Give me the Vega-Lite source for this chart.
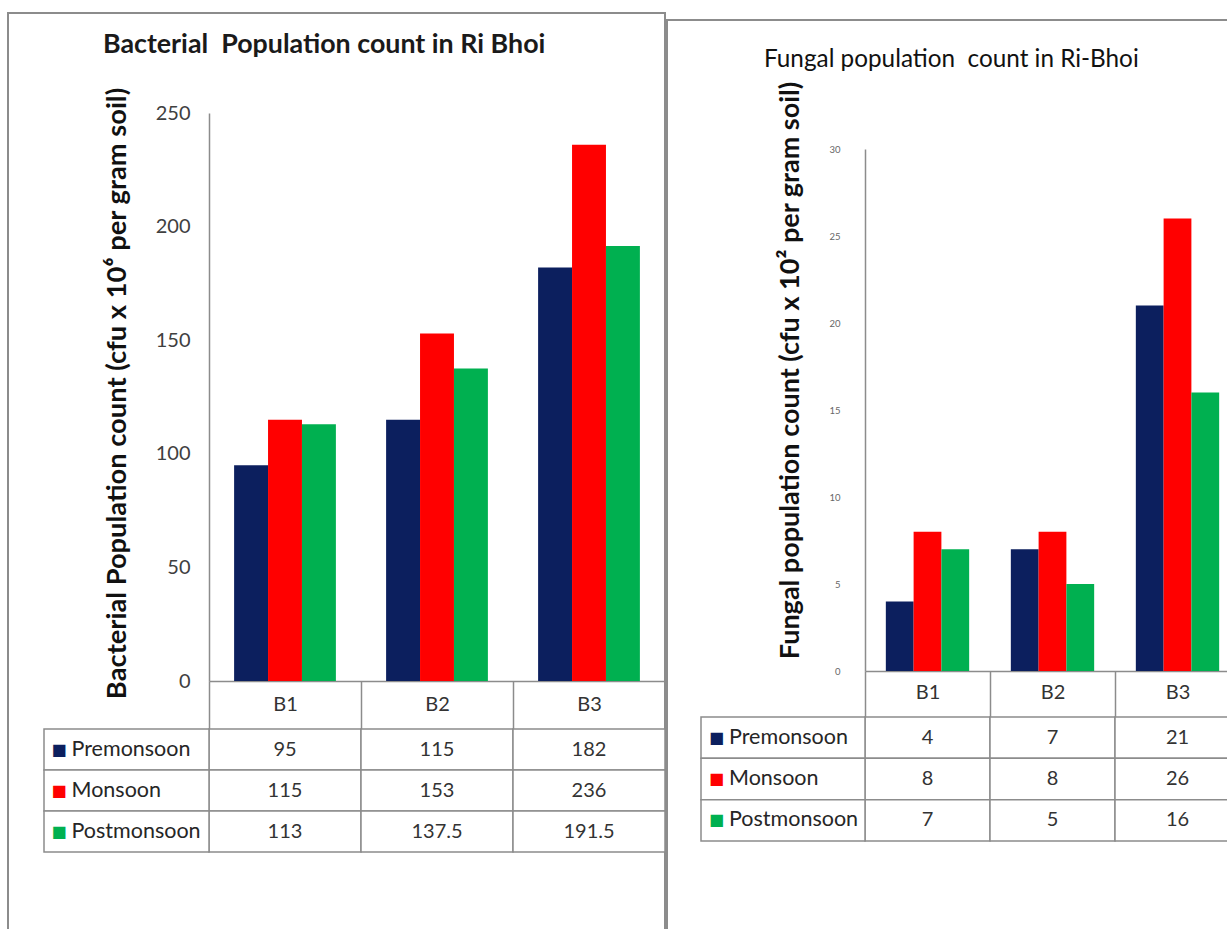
{
  "$schema": "https://vega.github.io/schema/vega-lite/v6.json",
  "width": 1227,
  "height": 929,
  "autosize": {"type": "none"},
  "padding": 0,
  "background": "white",
  "config": {"view": {"stroke": null}, "font": "Lato", "axis": {"grid": false, "zindex": 1}},
  "datasets": {
    "bact": [
      {"site": "B1", "season": "Premonsoon", "count": 95},
      {"site": "B1", "season": "Monsoon", "count": 115},
      {"site": "B1", "season": "Postmonsoon", "count": 113},
      {"site": "B2", "season": "Premonsoon", "count": 115},
      {"site": "B2", "season": "Monsoon", "count": 153},
      {"site": "B2", "season": "Postmonsoon", "count": 137.5},
      {"site": "B3", "season": "Premonsoon", "count": 182},
      {"site": "B3", "season": "Monsoon", "count": 236},
      {"site": "B3", "season": "Postmonsoon", "count": 191.5}
    ],
    "fung": [
      {"site": "B1", "season": "Premonsoon", "count": 4},
      {"site": "B1", "season": "Monsoon", "count": 8},
      {"site": "B1", "season": "Postmonsoon", "count": 7},
      {"site": "B2", "season": "Premonsoon", "count": 7},
      {"site": "B2", "season": "Monsoon", "count": 8},
      {"site": "B2", "season": "Postmonsoon", "count": 5},
      {"site": "B3", "season": "Premonsoon", "count": 21},
      {"site": "B3", "season": "Monsoon", "count": 26},
      {"site": "B3", "season": "Postmonsoon", "count": 16}
    ],
    "seasons": [
      {"season": "Premonsoon"},
      {"season": "Monsoon"},
      {"season": "Postmonsoon"}
    ],
    "panelL": [{"panel": "Bacterial", "title": "Bacterial\u00a0 Population count in Ri Bhoi"}],
    "panelR": [{"panel": "Fungal", "title": "Fungal population\u00a0 count in Ri-Bhoi"}]
  },
  "layer": [
    {
      "data": {"name": "panelL"},
      "layer": [
        {
          "mark": {"type": "rect", "fill": "transparent", "stroke": "#8c8c8c", "strokeWidth": 2},
          "encoding": {
            "x": {"field": "panel", "type": "nominal", "scale": {"range": [8, 665], "paddingInner": 0, "paddingOuter": 0}, "axis": null},
            "y": {"field": "panel", "type": "nominal", "scale": {"range": [13, 990], "paddingInner": 0, "paddingOuter": 0}, "axis": null}
          }
        },
        {
          "mark": {"type": "text", "align": "left", "baseline": "middle", "dx": 95, "dy": 32, "fontSize": 26.8, "fontWeight": "bold", "fill": "#1a1a1a"},
          "encoding": {
            "x": {"field": "panel", "type": "nominal", "bandPosition": 0, "scale": {"range": [8, 665], "paddingInner": 0, "paddingOuter": 0}, "axis": null},
            "y": {"field": "panel", "type": "nominal", "bandPosition": 0, "scale": {"range": [13, 990], "paddingInner": 0, "paddingOuter": 0}, "axis": null},
            "text": {"field": "title"}
          }
        }
      ]
    },
    {
      "data": {"name": "panelR"},
      "layer": [
        {
          "mark": {"type": "rect", "fill": "transparent", "stroke": "#8c8c8c", "strokeWidth": 2},
          "encoding": {
            "x": {"field": "panel", "type": "nominal", "scale": {"range": [667, 1400], "paddingInner": 0, "paddingOuter": 0}, "axis": null},
            "y": {"field": "panel", "type": "nominal", "scale": {"range": [20, 990], "paddingInner": 0, "paddingOuter": 0}, "axis": null}
          }
        },
        {
          "mark": {"type": "text", "align": "left", "baseline": "middle", "dx": 97, "dy": 40, "fontSize": 24.3, "fontWeight": "normal", "fill": "#111111"},
          "encoding": {
            "x": {"field": "panel", "type": "nominal", "bandPosition": 0, "scale": {"range": [667, 1400], "paddingInner": 0, "paddingOuter": 0}, "axis": null},
            "y": {"field": "panel", "type": "nominal", "bandPosition": 0, "scale": {"range": [20, 990], "paddingInner": 0, "paddingOuter": 0}, "axis": null},
            "text": {"field": "title"}
          }
        }
      ]
    },
    {
      "data": {"name": "bact"},
      "mark": {"type": "bar"},
      "encoding": {
        "x": {
          "field": "site", "type": "nominal",
          "scale": {"range": [209, 665], "paddingInner": 0, "paddingOuter": 0},
          "axis": {"orient": "bottom", "offset": -248, "title": null, "tickBand": "extent", "ticks": true, "tickSize": 48, "tickColor": "#8c8c8c", "tickWidth": 1.5, "domainColor": "#8c8c8c", "domainWidth": 1.5, "labelPadding": -35, "labelFontSize": 20, "labelColor": "#333333", "labelAngle": 0}
        },
        "xOffset": {"field": "season", "type": "nominal", "sort": ["Premonsoon", "Monsoon", "Postmonsoon"], "scale": {"domain": ["Premonsoon", "Monsoon", "Postmonsoon"], "paddingInner": 0, "paddingOuter": 0.74}},
        "y": {
          "field": "count", "type": "quantitative",
          "scale": {"domain": [0, 250], "range": [681, 113], "nice": false, "zero": true},
          "axis": {"orient": "left", "offset": -209, "values": [0, 50, 100, 150, 200, 250], "ticks": false, "tickSize": 0, "domainColor": "#8c8c8c", "domainWidth": 1.5, "labelPadding": 19, "labelFontSize": 20, "labelColor": "#404040", "title": "Bacterial Population count (cfu x 10\u2076 per gram soil)", "titleFontSize": 27.3, "titleFontWeight": "bold", "titleColor": "#111111", "titlePadding": 24, "titleY": 393}
        },
        "color": {"field": "season", "type": "nominal", "scale": {"domain": ["Premonsoon", "Monsoon", "Postmonsoon"], "range": ["#0c1f5e", "#ff0000", "#00b050"]}, "legend": null}
      }
    },
    {
      "data": {"name": "bact"},
      "encoding": {
        "x": {"field": "site", "type": "nominal", "scale": {"range": [209, 665], "paddingInner": 0, "paddingOuter": 0}, "axis": null},
        "y": {"field": "season", "type": "nominal", "sort": ["Premonsoon", "Monsoon", "Postmonsoon"], "scale": {"domain": ["Premonsoon", "Monsoon", "Postmonsoon"], "range": [729, 852], "paddingInner": 0, "paddingOuter": 0}, "axis": null}
      },
      "layer": [
        {"mark": {"type": "rect", "fill": "white", "stroke": "#8c8c8c", "strokeWidth": 1.5}},
        {"mark": {"type": "text", "fontSize": 20, "baseline": "middle", "fill": "#333333"}, "encoding": {"text": {"field": "count", "type": "quantitative", "format": ".4~g"}}}
      ]
    },
    {
      "data": {"name": "seasons"},
      "encoding": {
        "x": {"datum": "label", "type": "nominal", "scale": {"range": [44, 209], "paddingInner": 0, "paddingOuter": 0}, "axis": null},
        "y": {"field": "season", "type": "nominal", "sort": ["Premonsoon", "Monsoon", "Postmonsoon"], "scale": {"domain": ["Premonsoon", "Monsoon", "Postmonsoon"], "range": [729, 852], "paddingInner": 0, "paddingOuter": 0}, "axis": null}
      },
      "layer": [
        {"mark": {"type": "rect", "fill": "white", "stroke": "#8c8c8c", "strokeWidth": 1.5}},
        {"mark": {"type": "text", "text": "\u25a0", "font": "DejaVu Sans", "fontSize": 16, "align": "left", "baseline": "middle", "dx": -75}, "encoding": {"color": {"field": "season", "type": "nominal", "scale": {"domain": ["Premonsoon", "Monsoon", "Postmonsoon"], "range": ["#0c1f5e", "#ff0000", "#00b050"]}, "legend": null}}},
        {"mark": {"type": "text", "fontSize": 21.5, "align": "left", "baseline": "middle", "dx": -55, "fill": "#262626"}, "encoding": {"text": {"field": "season"}}}
      ]
    },
    {
      "data": {"name": "fung"},
      "mark": {"type": "bar"},
      "encoding": {
        "x": {
          "field": "site", "type": "nominal",
          "scale": {"range": [865, 1240], "paddingInner": 0, "paddingOuter": 0},
          "axis": {"orient": "bottom", "offset": -258, "title": null, "tickBand": "extent", "ticks": true, "tickSize": 46, "tickColor": "#8c8c8c", "tickWidth": 1.5, "domainColor": "#8c8c8c", "domainWidth": 1.5, "labelPadding": -35, "labelFontSize": 20, "labelColor": "#333333", "labelAngle": 0}
        },
        "xOffset": {"field": "season", "type": "nominal", "sort": ["Premonsoon", "Monsoon", "Postmonsoon"], "scale": {"domain": ["Premonsoon", "Monsoon", "Postmonsoon"], "paddingInner": 0, "paddingOuter": 0.75}},
        "y": {
          "field": "count", "type": "quantitative",
          "scale": {"domain": [0, 30], "range": [671, 149], "nice": false, "zero": true},
          "axis": {"orient": "left", "offset": -865, "values": [0, 5, 10, 15, 20, 25, 30], "ticks": false, "tickSize": 0, "domainColor": "#8c8c8c", "domainWidth": 1.5, "labelPadding": 25, "labelFontSize": 9.5, "labelColor": "#666666", "title": "Fungal population count (cfu x 10\u00b2 per gram soil)", "titleFontSize": 27, "titleFontWeight": "bold", "titleColor": "#111111", "titlePadding": 24, "titleY": 370}
        },
        "color": {"field": "season", "type": "nominal", "scale": {"domain": ["Premonsoon", "Monsoon", "Postmonsoon"], "range": ["#0c1f5e", "#ff0000", "#00b050"]}, "legend": null}
      }
    },
    {
      "data": {"name": "fung"},
      "encoding": {
        "x": {"field": "site", "type": "nominal", "scale": {"range": [865, 1240], "paddingInner": 0, "paddingOuter": 0}, "axis": null},
        "y": {"field": "season", "type": "nominal", "sort": ["Premonsoon", "Monsoon", "Postmonsoon"], "scale": {"domain": ["Premonsoon", "Monsoon", "Postmonsoon"], "range": [717, 841], "paddingInner": 0, "paddingOuter": 0}, "axis": null}
      },
      "layer": [
        {"mark": {"type": "rect", "fill": "white", "stroke": "#8c8c8c", "strokeWidth": 1.5}},
        {"mark": {"type": "text", "fontSize": 20, "baseline": "middle", "fill": "#333333"}, "encoding": {"text": {"field": "count", "type": "quantitative", "format": ".4~g"}}}
      ]
    },
    {
      "data": {"name": "seasons"},
      "encoding": {
        "x": {"datum": "label", "type": "nominal", "scale": {"range": [701, 865], "paddingInner": 0, "paddingOuter": 0}, "axis": null},
        "y": {"field": "season", "type": "nominal", "sort": ["Premonsoon", "Monsoon", "Postmonsoon"], "scale": {"domain": ["Premonsoon", "Monsoon", "Postmonsoon"], "range": [717, 841], "paddingInner": 0, "paddingOuter": 0}, "axis": null}
      },
      "layer": [
        {"mark": {"type": "rect", "fill": "white", "stroke": "#8c8c8c", "strokeWidth": 1.5}},
        {"mark": {"type": "text", "text": "\u25a0", "font": "DejaVu Sans", "fontSize": 16, "align": "left", "baseline": "middle", "dx": -74}, "encoding": {"color": {"field": "season", "type": "nominal", "scale": {"domain": ["Premonsoon", "Monsoon", "Postmonsoon"], "range": ["#0c1f5e", "#ff0000", "#00b050"]}, "legend": null}}},
        {"mark": {"type": "text", "fontSize": 21.5, "align": "left", "baseline": "middle", "dx": -54, "fill": "#262626"}, "encoding": {"text": {"field": "season"}}}
      ]
    }
  ],
  "resolve": {"scale": {"x": "independent", "y": "independent", "xOffset": "independent"}, "axis": {"x": "independent", "y": "independent"}}
}
